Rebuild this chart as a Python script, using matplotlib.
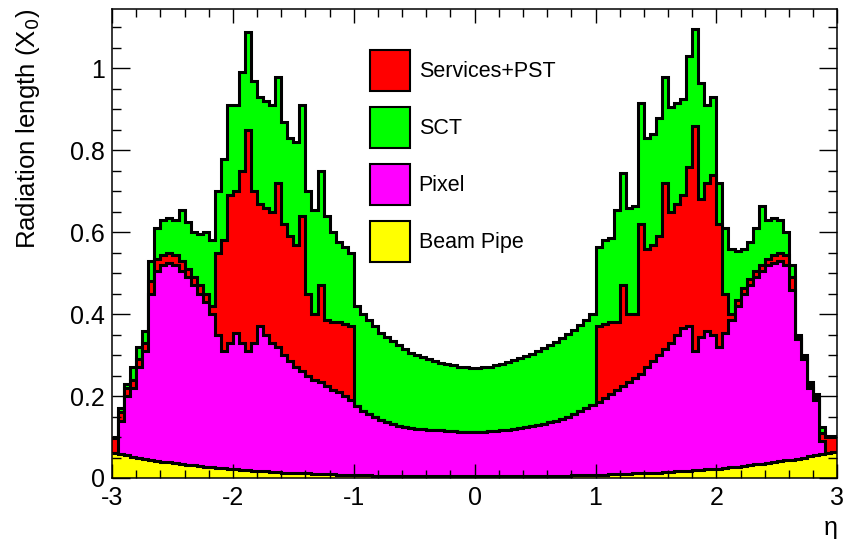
import numpy as np
import matplotlib
matplotlib.use("Agg")
import matplotlib.pyplot as plt
from matplotlib.patches import Patch
from matplotlib.ticker import MultipleLocator, FuncFormatter

plt.rcParams['font.family'] = ['Liberation Sans', 'DejaVu Sans']
plt.rcParams['axes.unicode_minus'] = False

# eta binning: 120 bins of 0.05 between -3 and 3
eta_edges = np.linspace(-3, 3, 121)

# stacked (cumulative) radiation length, in X0
beampipe_top = [
    0.061, 0.058, 0.055, 0.052, 0.049, 0.047, 0.045, 0.042, 0.040, 0.038,
    0.036, 0.034, 0.032, 0.031, 0.029, 0.028, 0.026, 0.025, 0.024, 0.022,
    0.021, 0.020, 0.019, 0.018, 0.017, 0.016, 0.015, 0.014, 0.013, 0.013,
    0.012, 0.011, 0.011, 0.010, 0.010, 0.009, 0.009, 0.008, 0.008, 0.008,
    0.007, 0.007, 0.007, 0.006, 0.006, 0.006, 0.006, 0.005, 0.005, 0.005,
    0.005, 0.005, 0.005, 0.004, 0.004, 0.004, 0.004, 0.004, 0.004, 0.004,
    0.004, 0.004, 0.004, 0.004, 0.004, 0.004, 0.005, 0.005, 0.005, 0.005,
    0.005, 0.005, 0.006, 0.006, 0.006, 0.006, 0.007, 0.007, 0.007, 0.008,
    0.008, 0.008, 0.009, 0.009, 0.010, 0.010, 0.011, 0.011, 0.012, 0.013,
    0.013, 0.014, 0.015, 0.016, 0.017, 0.018, 0.019, 0.020, 0.021, 0.022,
    0.023, 0.025, 0.026, 0.028, 0.029, 0.031, 0.033, 0.035, 0.037, 0.039,
    0.041, 0.043, 0.045, 0.047, 0.050, 0.053, 0.055, 0.058, 0.061, 0.064,
]

pixel_top = [
    0.061, 0.14, 0.20, 0.22, 0.27, 0.31, 0.45, 0.505, 0.52, 0.525,
    0.52, 0.505, 0.49, 0.47, 0.45, 0.43, 0.40, 0.35, 0.31, 0.33,
    0.355, 0.33, 0.31, 0.33, 0.37, 0.35, 0.33, 0.32, 0.30, 0.285,
    0.27, 0.26, 0.25, 0.24, 0.235, 0.225, 0.215, 0.21, 0.20, 0.19,
    0.175, 0.163, 0.155, 0.148, 0.142, 0.137, 0.132, 0.128, 0.125, 0.122,
    0.12, 0.119, 0.118, 0.117, 0.116, 0.115, 0.114, 0.113, 0.112, 0.112,
    0.112, 0.113, 0.114, 0.115, 0.116, 0.118, 0.12, 0.122, 0.124, 0.126,
    0.129, 0.132, 0.136, 0.14, 0.145, 0.15, 0.156, 0.163, 0.17, 0.178,
    0.185, 0.195, 0.205, 0.215, 0.225, 0.235, 0.245, 0.255, 0.27, 0.285,
    0.30, 0.315, 0.33, 0.35, 0.365, 0.37, 0.31, 0.345, 0.36, 0.35,
    0.32, 0.355, 0.385, 0.42, 0.45, 0.47, 0.49, 0.505, 0.52, 0.525,
    0.53, 0.52, 0.46, 0.34, 0.29, 0.22, 0.19, 0.09, 0.061, 0.064,
]

services_top = [
    0.098, 0.16, 0.22, 0.24, 0.29, 0.33, 0.48, 0.535, 0.545, 0.55,
    0.545, 0.53, 0.51, 0.49, 0.47, 0.45, 0.42, 0.55, 0.58, 0.69,
    0.70, 0.75, 0.85, 0.70, 0.67, 0.66, 0.65, 0.72, 0.62, 0.59,
    0.57, 0.64, 0.45, 0.40, 0.47, 0.385, 0.38, 0.38, 0.375, 0.37,
    0.175, 0.163, 0.155, 0.148, 0.142, 0.137, 0.132, 0.128, 0.125, 0.122,
    0.12, 0.119, 0.118, 0.117, 0.116, 0.115, 0.114, 0.113, 0.112, 0.112,
    0.112, 0.113, 0.114, 0.115, 0.116, 0.118, 0.12, 0.122, 0.124, 0.126,
    0.129, 0.132, 0.136, 0.14, 0.145, 0.15, 0.156, 0.163, 0.17, 0.178,
    0.37, 0.375, 0.38, 0.38, 0.47, 0.40, 0.40, 0.62, 0.56, 0.57,
    0.59, 0.72, 0.65, 0.67, 0.69, 0.76, 0.86, 0.68, 0.72, 0.74,
    0.62, 0.45, 0.40, 0.435, 0.465, 0.485, 0.505, 0.52, 0.535, 0.545,
    0.55, 0.545, 0.49, 0.345, 0.295, 0.228, 0.198, 0.11, 0.10, 0.10,
]

sct_top = [
    0.10, 0.17, 0.23, 0.27, 0.32, 0.36, 0.53, 0.61, 0.63, 0.635,
    0.63, 0.655, 0.625, 0.60, 0.595, 0.60, 0.58, 0.70, 0.78, 0.91,
    0.91, 0.99, 1.09, 0.97, 0.93, 0.92, 0.91, 0.98, 0.87, 0.83,
    0.82, 0.91, 0.70, 0.655, 0.75, 0.64, 0.60, 0.575, 0.565, 0.55,
    0.42, 0.40, 0.385, 0.37, 0.355, 0.345, 0.335, 0.325, 0.315, 0.305,
    0.30, 0.295, 0.29, 0.285, 0.28, 0.278, 0.275, 0.272, 0.27, 0.268,
    0.268, 0.27, 0.272, 0.275, 0.278, 0.282, 0.287, 0.292, 0.298, 0.303,
    0.31, 0.317, 0.325, 0.333, 0.342, 0.352, 0.362, 0.373, 0.385, 0.40,
    0.565, 0.58, 0.585, 0.655, 0.745, 0.66, 0.665, 0.915, 0.83, 0.84,
    0.88, 0.98, 0.905, 0.915, 0.925, 1.03, 1.095, 0.965, 0.91, 0.93,
    0.72, 0.61, 0.56, 0.555, 0.56, 0.575, 0.61, 0.665, 0.63, 0.635,
    0.63, 0.60, 0.52, 0.35, 0.30, 0.235, 0.205, 0.125, 0.102, 0.102,
]

layers = [
    ("SCT", sct_top, "#00ff00"),
    ("Services+PST", services_top, "#ff0000"),
    ("Pixel", pixel_top, "#ff00ff"),
    ("Beam Pipe", beampipe_top, "#ffff00"),
]
legend_order = ["Services+PST", "SCT", "Pixel", "Beam Pipe"]

fig = plt.figure(figsize=(8.5, 5.39), dpi=100)
ax = fig.add_axes([0.1318, 0.1132, 0.8532, 0.8701])

# draw like a THStack: each cumulative histo filled from 0, top one first
for name, vals, col in layers:
    ax.stairs(vals, eta_edges, baseline=0, fill=True, color=col, lw=0)
    ax.stairs(vals, eta_edges, baseline=None, color="black", lw=2.2)

ax.set_xlim(-3, 3)
ax.set_ylim(0, 1.145)

ax.xaxis.set_major_locator(MultipleLocator(1))
ax.xaxis.set_minor_locator(MultipleLocator(0.2))
ax.yaxis.set_major_locator(MultipleLocator(0.2))
ax.yaxis.set_minor_locator(MultipleLocator(0.05))
fmt = FuncFormatter(lambda v, p: "%g" % round(v, 3))
ax.xaxis.set_major_formatter(fmt)
ax.yaxis.set_major_formatter(fmt)

ax.tick_params(which="both", direction="in", top=True, right=True, width=1.0)
ax.tick_params(axis="x", which="major", length=10, pad=6, labelsize=18)
ax.tick_params(axis="x", which="minor", length=6)
ax.tick_params(axis="y", which="major", length=13, pad=5, labelsize=18)
ax.tick_params(axis="y", which="minor", length=6.5)
for sp in ax.spines.values():
    sp.set_linewidth(1.1)

ax.set_ylabel("Radiation length (X$_0$)", fontsize=18.5, loc="top")
ax.yaxis.set_label_coords(-0.097, 1.0)
ax.set_xlabel("η", fontsize=18, loc="right")
ax.xaxis.set_label_coords(1.0, -0.082)

colors = {name: col for name, vals, col in layers}
handles = [Patch(facecolor=colors[n], edgecolor="black", lw=1.5, label=n) for n in legend_order]
ax.legend(handles=handles, loc="upper left", bbox_to_anchor=(0.356, 0.913),
          frameon=False, fontsize=15.5, handlelength=1.85, handleheight=2.55,
          labelspacing=0.75, handletextpad=0.4, borderpad=0, borderaxespad=0)

fig.savefig("out.png", dpi=100, facecolor="white")
